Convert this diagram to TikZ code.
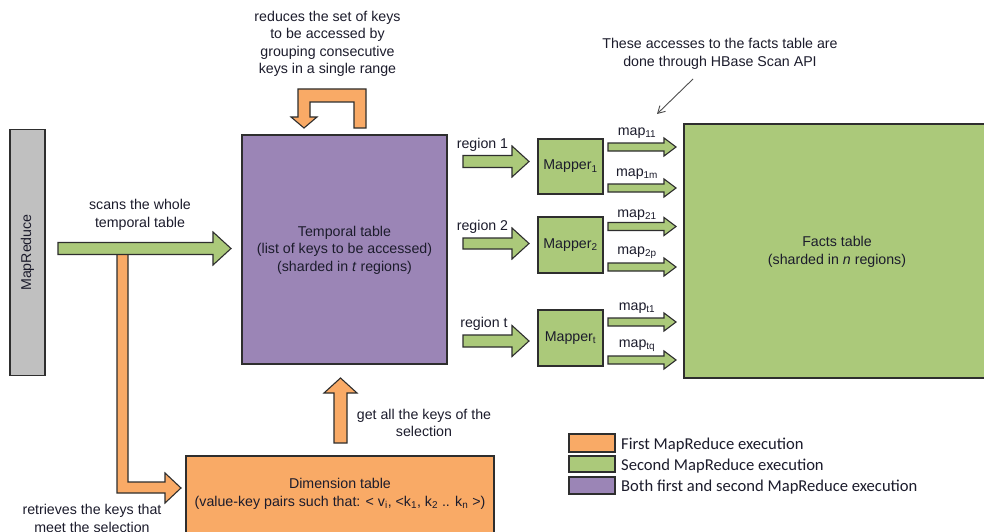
\documentclass[tikz,border=0pt]{standalone}
\usepackage{fontspec}
\setmainfont{Liberation Sans}
\newfontfamily\legendfont{Carlito}
\usetikzlibrary{arrows.meta}

\definecolor{orangefill}{HTML}{F9AA66}
\definecolor{greenfill}{HTML}{ABC97A}
\definecolor{purplefill}{HTML}{9B85B6}
\definecolor{grayfill}{HTML}{C0C0C0}
\definecolor{edgecol}{HTML}{2E2E2E}
\definecolor{txtcol}{HTML}{1C1C2C}

% right-pointing block arrow: style, x start, x tip, y centre, head length, shaft half width, head half width
\newcommand\blockright[7]{%
  \path[#1] (#2,#4-#6) -- (#3-#5,#4-#6) -- (#3-#5,#4-#7) -- (#3,#4)
    -- (#3-#5,#4+#7) -- (#3-#5,#4+#6) -- (#2,#4+#6) -- cycle;}

\begin{document}
\begin{tikzpicture}[x=1pt,y=-1pt,
    every node/.style={text=txtcol, font=\fontsize{14.2}{17.5}\selectfont},
    box/.style={draw=edgecol, line width=1.1pt, inner sep=0pt},
    blk/.style={draw=edgecol, line width=1.1pt, line join=miter},
    ofill/.style={blk, fill=orangefill},
    gfill/.style={blk, fill=greenfill},
    lbl/.style={align=center, inner sep=0pt},
    legbox/.style={draw=edgecol, line width=1.1pt, minimum width=46pt, inner sep=0pt},
    legtxt/.style={anchor=west, inner sep=0pt, font=\legendfont\fontsize{16.6}{19}\selectfont}]
\useasboundingbox (0,0) rectangle (984,532);
\clip (0,0) rectangle (984,532);
\fill[white] (0,0) rectangle (984,532);

% main boxes
\node[box, fill=grayfill, minimum width=35pt, minimum height=246pt] (mr) at (27.5,252.5) {};
\node[rotate=90, inner sep=0pt] (mrtext) at (mr.center) {MapReduce};
\node[box, fill=purplefill, minimum width=205pt, minimum height=229pt] (temporal) at (344.5,249.5) {};
\node[lbl] (temporaltext) at (344.5,250) {Temporal table\\(list of keys to be accessed)\\(sharded in \textit{t} regions)};
\node[box, fill=orangefill, minimum width=308pt, minimum height=84pt] (dim) at (340,498) {};
\node[lbl] (dimtext) at (340,494) {Dimension table\\(value-key pairs such that: {<} v\textsubscript{i}, {<}k\textsubscript{1}, k\textsubscript{2} .. k\textsubscript{n} {>})};
\node[box, fill=greenfill, minimum width=306pt, minimum height=254pt] (facts) at (837,251) {};
\node[lbl] (factstext) at (837,252) {Facts table\\(sharded in \textit{n} regions)};

% mappers
\node[box, fill=greenfill, minimum width=65pt, minimum height=55pt] (m1) at (570.5,166.5) {Mapper\textsubscript{1}};
\node[box, fill=greenfill, minimum width=65pt, minimum height=56pt] (m2) at (570.5,245) {Mapper\textsubscript{2}};
\node[box, fill=greenfill, minimum width=65pt, minimum height=56pt] (mt) at (570.5,338) {Mapper\textsubscript{t}};

% first job: from the scan down to the dimension table
\path[ofill] (117,254) -- (128,254) -- (128,482) -- (165,482) -- (165,473) -- (181,488)
  -- (165,503) -- (165,493) -- (117,493) -- cycle;
% keys of the selection go up into the temporal table
\path[ofill] (334,443) -- (334,393) -- (324,393) -- (340.5,378) -- (357,393) -- (347,393) -- (347,443) -- cycle;
% key grouping loop on top of the temporal table
\path[ofill] (298,89) -- (366,89) -- (366,128) -- (354,128) -- (354,102) -- (310,102) -- (310,117)
  -- (317,117) -- (304,128) -- (291,117) -- (298,117) -- cycle;

% full scan of the temporal table
\blockright{gfill}{58}{231}{248.5}{18}{6}{16.5}

% regions to mappers
\blockright{gfill}{463}{529}{161.5}{17}{6}{15.5}
\blockright{gfill}{463}{529}{243.5}{17}{5.5}{15.5}
\blockright{gfill}{463}{529}{341}{17}{6}{15.5}

% mappers to the facts table
\blockright{gfill}{608}{676}{147}{12}{4}{9}
\blockright{gfill}{608}{676}{188}{12}{4}{9}
\blockright{gfill}{608}{676}{226.5}{12}{4}{9}
\blockright{gfill}{608}{676}{267}{12}{4}{9}
\blockright{gfill}{608}{676}{322}{12}{4}{9}
\blockright{gfill}{608}{676}{360}{12}{4}{9}

% labels
\node[lbl] (reduceslbl) at (327.5,44) {reduces the set of keys\\to be accessed by\\grouping consecutive\\keys in a single range};
\node[lbl] (scanslbl) at (140,215) {scans the whole\\temporal table};
\node[lbl] (getlbl) at (424,423) {get all the keys of the\\selection};
\node[lbl] (retrlbl) at (92,518.5) {retrieves the keys that\\meet the selection};
\node[lbl] (hbaselbl) at (720,54) {These accesses to the facts table are\\done through HBase Scan API};

\node[lbl] (r1) at (482.5,145) {region 1};
\node[lbl] (r2) at (482.5,227) {region 2};
\node[lbl] (rt) at (484,324) {region t};

\node[lbl] (l11) at (637,133) {map\textsubscript{11}};
\node[lbl] (l1m) at (637,174) {map\textsubscript{1m}};
\node[lbl] (l21) at (637,215) {map\textsubscript{21}};
\node[lbl] (l2p) at (637,253) {map\textsubscript{2p}};
\node[lbl] (lt1) at (637,308) {map\textsubscript{t1}};
\node[lbl] (ltq) at (637,346) {map\textsubscript{tq}};

% pointer to the scan accesses
\coordinate (ptrstart) at (693,79);
\coordinate (ptrend) at (657,114);
\draw[draw=edgecol!85, line width=0.9pt, -{Straight Barb[length=7pt,width=8pt]}] (ptrstart) -- (ptrend);

% legend
\node[legbox, fill=orangefill, minimum height=18pt] (leg1) at (592,443) {};
\node[legbox, fill=greenfill, minimum height=16pt] (leg2) at (592,464) {};
\node[legbox, fill=purplefill, minimum height=17pt] (leg3) at (592,485.5) {};
\node[legtxt] (leg1t) at (621,445) {First MapReduce execution};
\node[legtxt] (leg2t) at (621,466) {Second MapReduce execution};
\node[legtxt] (leg3t) at (621,487) {Both first and second MapReduce execution};
\end{tikzpicture}
\end{document}
